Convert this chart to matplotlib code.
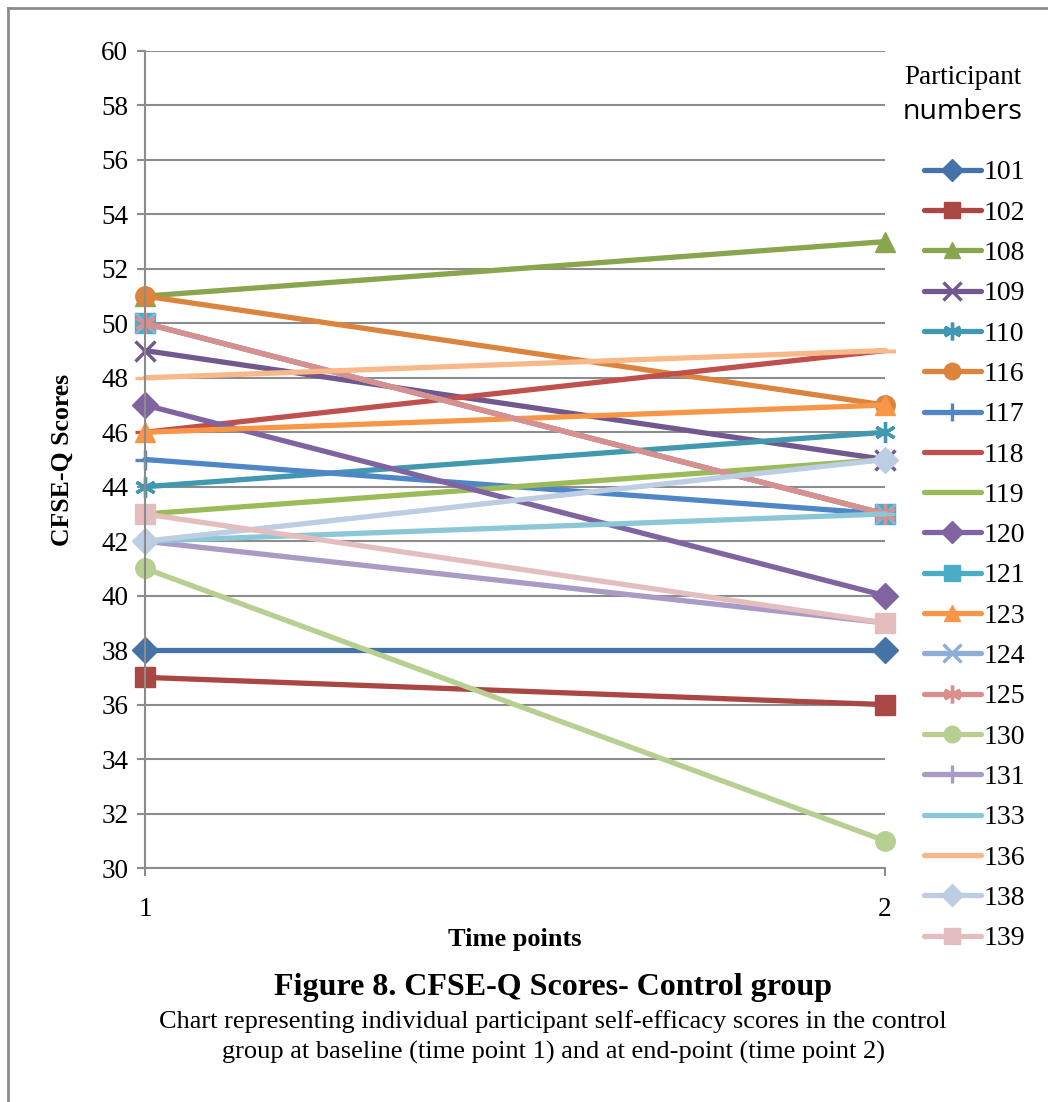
import matplotlib
matplotlib.use('Agg')
import matplotlib.pyplot as plt
from matplotlib.lines import Line2D

# participant scores at time point 1 and 2
participants = ['101', '102', '108', '109', '110', '116', '117', '118', '119', '120',
                '121', '123', '124', '125', '130', '131', '133', '136', '138', '139']
time1 = [38, 37, 51, 49, 44, 51, 45, 46, 43, 47, 50, 46, 50, 50, 41, 42, 42, 48, 42, 43]
time2 = [38, 36, 53, 45, 46, 47, 43, 49, 45, 40, 43, 47, 43, 43, 31, 39, 43, 49, 45, 39]
time_points = [1, 2]

colors = ['#4572A7', '#AA4643', '#89A54E', '#71588F', '#4198AF', '#DB843D', '#4F86C6',
          '#C0504D', '#9BBB59', '#8064A2', '#4BACC6', '#F79646', '#8FADD7', '#D98F8C',
          '#B7CF90', '#A99BC5', '#8CC7D8', '#F9B88A', '#BCCDE4', '#E4BEBE']
markers = ['D', 's', '^', 'x', (6, 2, 0), 'o', '+', '_', '_', 'D',
           's', '^', 'x', (6, 2, 0), 'o', '+', '_', '_', 'D', 's']

plt.rcParams['font.family'] = 'Liberation Serif'

fig = plt.figure(figsize=(10.48, 11.02), dpi=100)
W, H = 1048, 1102
ax = fig.add_axes([145 / W, 1 - 868 / H, (885 - 145) / W, (868 - 51) / H])

for name, a, b, c, m in zip(participants, time1, time2, colors, markers):
    ms = 14
    mew = 1
    if m in ('x', '+', '_') or isinstance(m, tuple):
        ms = 15
        mew = 2.4
    if m == 'D':
        ms = 13
    ax.plot(time_points, [a, b], color=c, lw=3.8, marker=m, markersize=ms,
            markerfacecolor=c, markeredgecolor=c, markeredgewidth=mew,
            clip_on=False, label=name, solid_capstyle='round')

ax.set_xlim(1, 2)
ax.set_ylim(30, 60)
ax.set_yticks(range(30, 61, 2))
ax.set_xticks(time_points)
ax.yaxis.grid(True, color='#8C8C8C', lw=1.5)
ax.set_axisbelow(True)
for s in ['top', 'right']:
    ax.spines[s].set_visible(False)
for s in ['left', 'bottom']:
    ax.spines[s].set_color('#8C8C8C')
    ax.spines[s].set_linewidth(1.5)
ax.tick_params(axis='both', colors='#8C8C8C', width=1.5, length=6, labelsize=19.5,
               labelcolor='black')
ax.tick_params(axis='y', pad=6)
ax.tick_params(axis='x', pad=15)
ax.set_ylabel('CFSE-Q Scores', fontsize=18.5, fontweight='bold', labelpad=20)
ax.set_xlabel('Time points', fontsize=19, fontweight='bold', labelpad=4)

leg = ax.legend(loc='upper left', bbox_to_anchor=(924 / W, 1 - 160 / H),
                bbox_transform=fig.transFigure, frameon=False, fontsize=20,
                handlelength=2.05, handletextpad=0.1, labelspacing=0.535,
                markerscale=0.85, borderaxespad=0, borderpad=0)

fig.text(963 / W, 1 - 78 / H, 'Participant', ha='center', va='center', fontsize=19.5)
fig.text(963 / W, 1 - 112 / H, 'numbers', ha='center', va='center', fontsize=20.5,
         family='Open Sans')

fig.text(553 / W, 1 - 987 / H, 'Figure 8. CFSE-Q Scores- Control group',
         ha='center', va='center', fontsize=23, fontweight='bold')
fig.text(553 / W, 1 - 1022 / H,
         'Chart representing individual participant self-efficacy scores in the control',
         ha='center', va='center', fontsize=19)
fig.text(553 / W, 1 - 1052 / H,
         'group at baseline (time point 1) and at end-point (time point 2)',
         ha='center', va='center', fontsize=19)

# chart border (left and top edges visible)
fig.add_artist(Line2D([8 / W, 8 / W], [0, 1 - 8 / H], color='#8C8C8C', lw=2,
                      transform=fig.transFigure))
fig.add_artist(Line2D([8 / W, 1], [1 - 8 / H, 1 - 8 / H], color='#8C8C8C', lw=2,
                      transform=fig.transFigure))

fig.savefig('out.png', dpi=100)
